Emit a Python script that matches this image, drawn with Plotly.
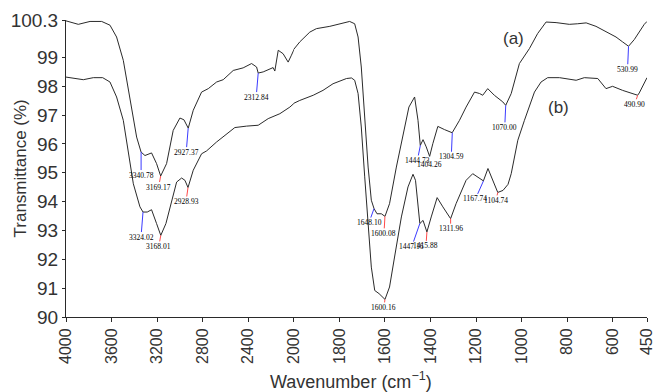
import plotly.graph_objects as go

# ---------------- data ----------------
wn_a = [4000, 3892, 3789, 3687, 3614, 3556, 3497, 3439, 3380, 3341, 3307, 3249, 3205, 3169, 3117,
        3059, 3000, 2965, 2927, 2883, 2810, 2751, 2678, 2620, 2532, 2445, 2371, 2327, 2313, 2269,
        2182, 2167, 2137, 2094, 2050, 2021, 1974, 1930, 1901, 1842, 1784, 1755, 1733, 1718, 1704,
        1689, 1674, 1660, 1648, 1635, 1616, 1600, 1580, 1550, 1521, 1495, 1470, 1455, 1445, 1433,
        1419, 1404, 1390, 1368, 1339, 1305, 1273, 1244, 1207, 1185, 1171, 1149, 1120, 1083, 1070,
        1046, 1010, 966, 930, 893, 849, 791, 754, 717, 674, 630, 586, 557, 531, 506, 476, 462, 450]
t_a = [100.27, 100.15, 100.25, 100.25, 100.12, 99.71, 98.9, 97.51, 96.24, 95.72, 95.6, 95.69, 95.32, 94.89, 95.32,
       96.47, 96.9, 96.84, 96.55, 97.17, 97.8, 97.92, 98.15, 98.23, 98.55, 98.64, 98.79, 98.67, 98.46, 98.5,
       98.65, 98.53, 99.25, 99.13, 98.84, 99.08, 99.54, 99.88, 100.0, 100.08, 100.2, 100.25, 100.17, 99.71, 98.67,
       96.94, 95.2, 94.05, 93.76, 93.58, 93.58, 93.49, 93.93, 95.2, 96.36, 97.28, 97.63, 96.82, 95.95, 96.15,
       95.9, 95.57, 96.01, 96.61, 96.5, 96.39, 96.82, 97.28, 97.8, 97.75, 97.69, 97.92, 97.69, 97.46, 97.34,
       97.75, 98.79, 99.31, 99.83, 100.23, 100.21, 100.15, 100.17, 100.2, 100.08, 99.88, 99.71, 99.54, 99.39, 99.62, 100.0, 100.15, 100.25]

wn_b = [4000, 3848, 3760, 3678, 3614, 3556, 3497, 3453, 3409, 3351, 3324, 3287, 3249, 3205, 3168,
        3123, 3073, 3029, 2985, 2956, 2929, 2883, 2810, 2766, 2678, 2591, 2518, 2415, 2313, 2225,
        2123, 2035, 1974, 1915, 1872, 1828, 1769, 1747, 1733, 1718, 1704, 1689, 1674, 1660, 1645,
        1626, 1600, 1580, 1558, 1528, 1499, 1477, 1466, 1447, 1433, 1416, 1397, 1371, 1346, 1312,
        1288, 1244, 1215, 1190, 1173, 1168, 1148, 1130, 1115, 1105, 1082, 1060, 1046, 1017, 988,
        944, 915, 886, 834, 791, 761, 725, 666, 630, 601, 557, 491, 484, 462, 450]
t_b = [98.32, 98.23, 98.3, 98.3, 98.15, 97.63, 96.82, 95.66, 94.62, 93.82, 93.64, 93.64, 93.72, 93.24, 92.83,
       93.24, 94.05, 94.68, 94.82, 94.74, 94.49, 95.09, 95.66, 95.76, 96.07, 96.36, 96.57, 96.62, 96.65, 96.88,
       97.05, 97.28, 97.51, 97.69, 97.86, 98.09, 98.27, 98.29, 98.21, 97.75, 96.59, 94.86, 93.12, 91.73, 90.92,
       90.81, 90.61, 91.04, 92.08, 93.47, 94.51, 94.95, 94.74, 93.24, 93.35, 92.95, 93.47, 94.14, 93.82, 93.41,
       93.93, 94.74, 94.97, 94.85, 94.74, 94.72, 95.15, 94.8, 94.45, 94.32, 94.39, 94.6, 94.97, 96.13, 96.82,
       97.8, 98.15, 98.3, 98.3, 98.24, 98.21, 98.3, 98.27, 97.92, 98.0, 97.86, 97.69, 97.77, 98.15, 98.3]

peak_a_wn = [3340.78, 3169.17, 2927.37, 2312.84, 1648.10, 1600.08, 1444.73, 1404.26, 1304.59, 1070.00, 530.99]
peak_a_t = [95.72, 94.89, 96.55, 98.46, 93.76, 93.49, 95.95, 95.57, 96.39, 97.34, 99.39]
peak_b_wn = [3324.02, 3168.01, 2928.93, 1600.16, 1447.16, 1415.88, 1311.96, 1167.74, 1104.74, 490.90]
peak_b_t = [93.64, 92.83, 94.49, 90.61, 93.24, 92.95, 93.41, 94.72, 94.32, 97.69]

x1_ticks = [4000, 3600, 3200, 2800, 2400]
x2_ticks = [2000, 1800, 1600, 1400, 1200, 1000, 800, 600, 450]
y_ticks = [90, 91, 92, 93, 94, 95, 96, 97, 98, 99, 100.3]
y_ticktext = ["90", "91", "92", "93", "94", "95", "96", "97", "98", "99", "100.3"]

# ---------------- styles ----------------
BLUE = "#3b3bff"
RED = "#ff4a4a"
peak_a_col = [BLUE, RED, BLUE, BLUE, BLUE, RED, BLUE, RED, BLUE, BLUE, BLUE]
peak_a_off = [(0, 23), (-2, 11), (-2, 24), (-2, 24), (-5, 14), (-1, 17), (-3, 15), (0, 8), (-1, 24), (-1, 22), (-1, 23)]
peak_b_col = [BLUE, RED, RED, RED, BLUE, RED, RED, BLUE, RED, RED]
peak_b_off = [(-2, 25), (-2, 11), (-2, 14), (-1, 8), (-8, 23), (-1, 14), (0, 10), (-8, 18), (-2, 8), (-3, 9)]

TXT = "#333333"
LINE = "#2a2a2a"

fig = go.Figure()
span1 = 5.0
span2 = 7.75
split = span1 / (span1 + span2)

for xa in ["x", "x2"]:
    fig.add_trace(go.Scatter(x=wn_a, y=t_a, mode="lines", xaxis=xa, yaxis="y",
                             line=dict(color=LINE, width=1), showlegend=False, hoverinfo="skip"))
    fig.add_trace(go.Scatter(x=wn_b, y=t_b, mode="lines", xaxis=xa, yaxis="y",
                             line=dict(color=LINE, width=1), showlegend=False, hoverinfo="skip"))

annotations = []


def add_peaks(wns, ts, cols, offs):
    for w, t, c, (ax, ay) in zip(wns, ts, cols, offs):
        annotations.append(dict(
            x=w, y=t, xref="x" if w >= 2000 else "x2", yref="y",
            text=f"{w:.2f}", showarrow=True, arrowhead=0, arrowwidth=1, arrowcolor=c,
            ax=ax, ay=ay, standoff=0, borderpad=0,
            font=dict(family="Liberation Serif", size=7.5, color="#000000")))


add_peaks(peak_a_wn, peak_a_t, peak_a_col, peak_a_off)
add_peaks(peak_b_wn, peak_b_t, peak_b_col, peak_b_off)

annotations += [
    dict(x=1036, y=99.65, xref="x2", yref="y", text="(a)", showarrow=False,
         font=dict(family="Liberation Sans", size=17, color=TXT)),
    dict(x=838, y=97.27, xref="x2", yref="y", text="(b)", showarrow=False,
         font=dict(family="Liberation Sans", size=17, color=TXT)),
    dict(x=0.49, y=-0.215, xref="paper", yref="paper", text="Wavenumber (cm<sup>\u22121</sup>)",
         showarrow=False, yanchor="middle",
         font=dict(family="Liberation Sans", size=18, color=TXT)),
    dict(x=-0.0775, y=0.5, xref="paper", yref="paper", text="Transmittance (%)",
         showarrow=False, textangle=-90, xanchor="center", yanchor="middle",
         font=dict(family="Liberation Sans", size=17, color=TXT)),
]

axis_common = dict(showline=True, linecolor=LINE, linewidth=1, showgrid=False, zeroline=False,
                   ticks="outside", ticklen=4, tickcolor=LINE, tickangle=-90,
                   ticklabeloverflow="allow", automargin=False,
                   tickfont=dict(family="Liberation Sans", size=16, color=TXT))

fig.update_layout(
    width=655, height=392,
    margin=dict(l=66, r=8, t=20, b=75, autoexpand=False),
    paper_bgcolor="white", plot_bgcolor="white",
    xaxis=dict(domain=[0, split], range=[4000, 2000], tickvals=x1_ticks, anchor="y", **axis_common),
    xaxis2=dict(domain=[split, 1], range=[2000, 450], tickvals=x2_ticks, anchor="y", **axis_common),
    yaxis=dict(range=[90, 100.3], tickvals=y_ticks, ticktext=y_ticktext, showline=True,
               linecolor=LINE, linewidth=1, showgrid=False, zeroline=False, ticks="outside",
               ticklen=3, tickcolor=LINE, automargin=False,
               tickfont=dict(family="Liberation Sans", size=19, color=TXT)),
    annotations=annotations,
)

fig.write_html("out.html")
